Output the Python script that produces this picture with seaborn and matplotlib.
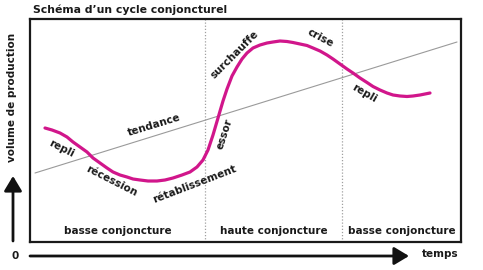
import matplotlib
matplotlib.use("Agg")
import matplotlib.pyplot as plt
import seaborn as sns
import pandas as pd

# ---- data (time, volume) ----
time = [45, 52, 60, 67, 73, 80, 87, 93, 100, 107, 113, 120, 127, 133, 140, 148, 157, 165,
        173, 182, 190, 197, 203, 208, 213, 218, 223, 227, 232, 237, 242, 247, 253, 260,
        267, 273, 280, 287, 293, 300, 307, 313, 320, 327, 333, 340, 347, 353, 360, 367,
        373, 380, 387, 393, 400, 407, 413, 420, 425, 430]
volume = [142, 140, 137, 133, 128, 123, 118, 112, 107, 102, 98, 95, 93, 91, 90, 89, 89, 90,
          92, 95, 98, 103, 110, 120, 135, 152, 169, 181, 194, 203, 211, 217, 222, 225,
          227, 228, 229, 228.5, 227.5, 226, 224.5, 222, 219, 215, 211, 206, 201, 197, 192, 187.5,
          183.5, 180, 177, 175, 174, 173.5, 174, 175, 176, 177]
trend_time = [35, 457]
trend_volume = [97, 228]
boundaries = [205, 342]
regions = ["basse conjoncture", "haute conjoncture", "basse conjoncture"]
phase_labels = ["repli", "récession", "rétablissement", "essor", "surchauffe", "crise", "repli", "tendance"]
phase_x = [61, 111, 195, 225, 235, 320, 364, 154]
phase_y = [121, 89, 86, 136, 215, 232, 177, 145]
phase_rot = [-27, -27, 21, 72, 45, -28, -30, 17]

sns.set_theme(style="white")
plt.rcParams['font.family'] = ['DejaVu Sans']

W, H = 483, 270
fig = plt.figure(figsize=(W / 100, H / 100), dpi=100)
fig.patch.set_facecolor("white")

# overlay axes in pixel coordinates for decorations
ov = fig.add_axes([0, 0, 1, 1])
ov.set_xlim(0, W)
ov.set_ylim(H, 0)
ov.axis("off")

xmin, xmax, ytop, ybot = 30, 461, 19, 242
ax = fig.add_axes([xmin / W, (H - ybot) / H, (xmax - xmin) / W, (ybot - ytop) / H])
ax.set_xlim(xmin, xmax)
ax.set_ylim(H - ybot, H - ytop)
ax.set_xticks([])
ax.set_yticks([])
for s in ax.spines.values():
    s.set_visible(True)
    s.set_color("#1a1a1a")
    s.set_linewidth(1.6)
ax.set_facecolor("white")

for b in boundaries:
    ax.axvline(b, color="#a0a0a0", linestyle=(0, (1, 1.5)), lw=0.9)

sns.lineplot(x=trend_time, y=trend_volume, ax=ax, color="#9a9a9a", lw=0.8)
df = pd.DataFrame({"t": time, "v": volume})
sns.lineplot(data=df, x="t", y="v", ax=ax, sort=False, color="#d1168b", lw=2.3,
             solid_capstyle="round", solid_joinstyle="round")
ax.set_xlabel("")
ax.set_ylabel("")

fs = 7.5
for lab, x, y, r in zip(phase_labels, phase_x, phase_y, phase_rot):
    ax.text(x, y, lab, rotation=r, rotation_mode="anchor", ha="center", va="center",
            fontsize=fs, fontweight="bold", color="#1a1a1a")

edges = [xmin] + boundaries + [xmax]
for i, lab in enumerate(regions):
    cx = (edges[i] + edges[i + 1]) / 2
    ax.text(cx, H - 231, lab, ha="center", va="center", fontsize=fs,
            fontweight="bold", color="#1a1a1a")

# title
ov.text(33, 10, "Schéma d\u2019un cycle conjoncturel", ha="left", va="center",
        fontsize=7.8, fontweight="bold", color="#1a1a1a")

# horizontal time arrow
ov.annotate("", xy=(409, 256), xytext=(30, 256),
            arrowprops=dict(arrowstyle="-|>,head_length=0.75,head_width=0.45", lw=2,
                            color="#111111", shrinkA=0, shrinkB=0))
ov.text(15, 256, "0", ha="center", va="center", fontsize=fs, fontweight="bold", color="#1a1a1a")
ov.text(440, 254, "temps", ha="center", va="center", fontsize=fs, fontweight="bold", color="#1a1a1a")

# vertical volume arrow
ov.annotate("", xy=(13, 176), xytext=(13, 241),
            arrowprops=dict(arrowstyle="-|>,head_length=0.75,head_width=0.45", lw=2,
                            color="#111111", shrinkA=0, shrinkB=0))
ov.text(12, 97, "volume de production", rotation=90, ha="center", va="center",
        fontsize=fs, fontweight="bold", color="#1a1a1a")

fig.savefig("out.png", dpi=100)
